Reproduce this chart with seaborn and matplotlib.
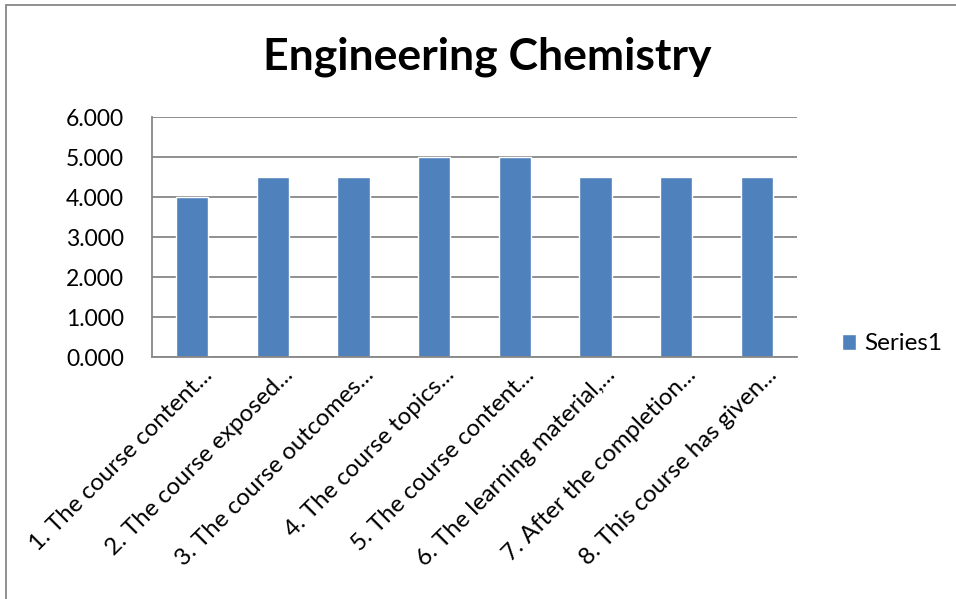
import matplotlib
matplotlib.use("Agg")
import matplotlib.pyplot as plt
import matplotlib.transforms as mtransforms
import seaborn as sns
import pandas as pd
from matplotlib.patches import Rectangle

categories = ["1. The course content...", "2. The course exposed...", "3. The course outcomes...",
              "4. The course topics...", "5. The course content...", "6. The learning material,...",
              "7. After the completion...", "8. This course has given..."]
values = [4.0, 4.5, 4.5, 5.0, 5.0, 4.5, 4.5, 4.5]
series_name = "Series1"
title = "Engineering Chemistry"

sns.set_theme(style="white")
plt.rcParams['font.family'] = ['Lato', 'DejaVu Sans']
plt.rcParams['text.color'] = 'black'

df = pd.DataFrame({"cat": categories, "val": values, "series": series_name})

W, H = 956, 599
fig = plt.figure(figsize=(W/100, H/100), dpi=100)
ax = fig.add_axes([152/W, 1-357/H, (797-152)/W, (357-117)/H])

sns.barplot(data=df, x="cat", y="val", hue="series", palette=["#4F81BD"], width=0.4,
            ax=ax, saturation=1, legend=True)

ax.set_ylim(0, 6)
ax.set_xlim(-0.5, 7.5)
ax.set_yticks([0, 1, 2, 3, 4, 5, 6])
ax.set_yticklabels([f"{v:.3f}" for v in [0, 1, 2, 3, 4, 5, 6]])
ax.yaxis.grid(True, color="#878787", linewidth=1.3)
ax.set_axisbelow(True)
ax.set_xlabel("")
ax.set_ylabel("")
for s in ["top", "right"]:
    ax.spines[s].set_visible(False)
for s in ["left", "bottom"]:
    ax.spines[s].set_color("#878787")
    ax.spines[s].set_linewidth(1.3)
ax.tick_params(axis="y", length=0, pad=20, labelsize=16.5, colors="black")
ax.tick_params(axis="x", length=0, pad=0)
ax.set_xticks(range(len(categories)))
ax.set_xticklabels(categories, rotation=45, ha="right", rotation_mode="anchor",
                   fontsize=17.3, color="black")
offset = mtransforms.ScaledTranslation(9/100, -7/100, fig.dpi_scale_trans)
for lab in ax.get_xticklabels():
    lab.set_transform(lab.get_transform() + offset)

leg = ax.legend(loc="center left", bbox_to_anchor=(820/W, 1-344/H), bbox_transform=fig.transFigure,
                frameon=False, fontsize=17.5, handlelength=0.6, handleheight=0.6, handletextpad=0.3)
for t in leg.get_texts():
    t.set_color("black")

fig.text(487/W, 1-57/H, title, ha="center", va="center", fontsize=32, fontweight="bold", color="black")

fig.patches.append(Rectangle((6/W, -0.1), 1.2, 1-5/H+0.1, transform=fig.transFigure,
                             fill=False, edgecolor="#878787", linewidth=1.3))

fig.savefig("out.png", dpi=100)
